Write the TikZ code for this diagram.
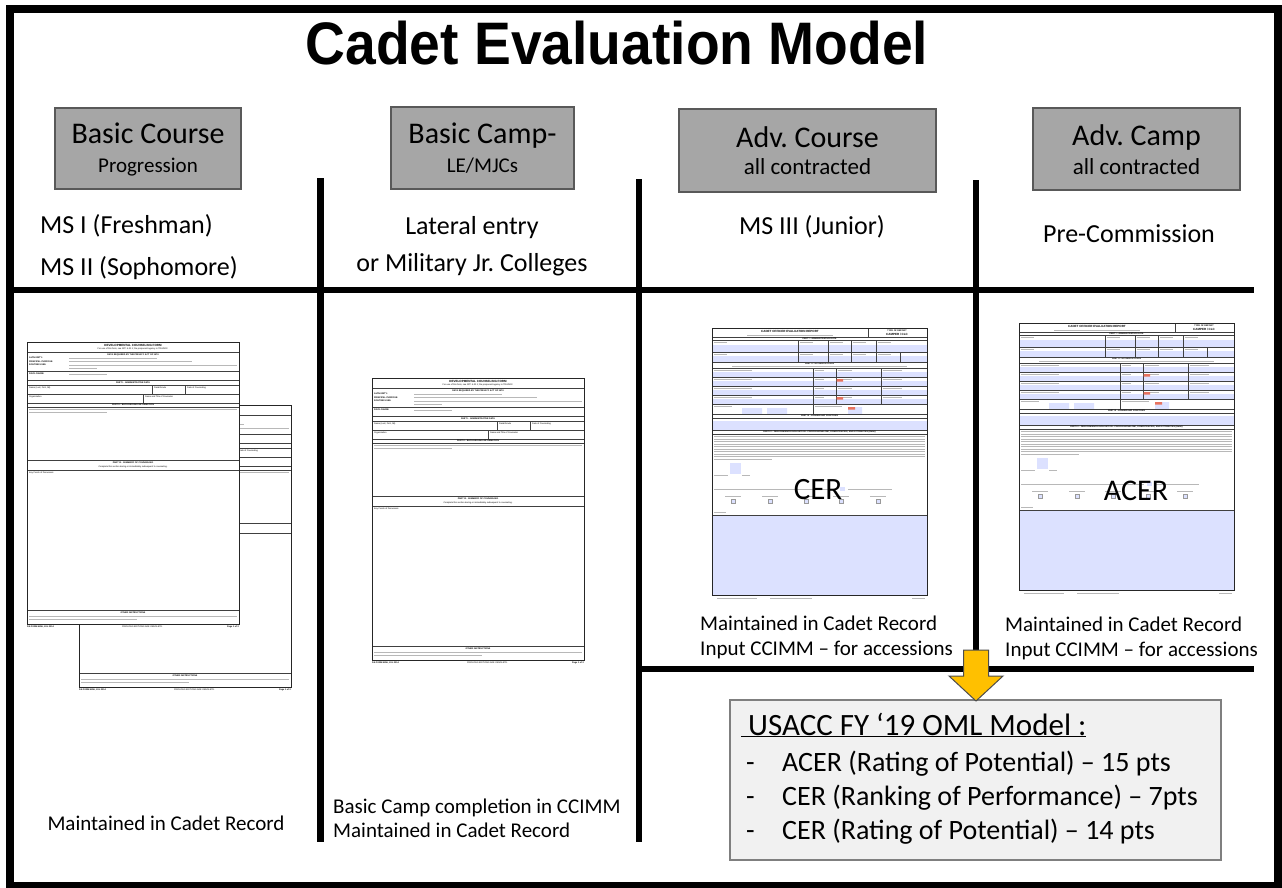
\documentclass[tikz,border=0pt]{standalone}
\usepackage{fontspec}
\setmainfont{Carlito}
\newfontfamily\titlefont{Liberation Sans}
\newfontfamily\formfont{Liberation Sans}
\definecolor{boxgray}{HTML}{A6A6A6}
\definecolor{boxedge}{HTML}{595959}
\definecolor{omlfill}{HTML}{F1F1F1}
\definecolor{omledge}{HTML}{7F7F7F}
\definecolor{fieldblue}{HTML}{DCE1FF}
\definecolor{arrowgold}{HTML}{FFC000}
\definecolor{sigred}{HTML}{E8735F}
\newcommand{\fsz}[1]{\fontsize{#1}{#1}\selectfont}
\tikzset{
  frame/.style={line width=8pt},
  divline/.style={line width=6.5pt},
  hdrbox/.style={draw=boxedge, fill=boxgray, line width=1.2pt, inner sep=0pt},
  omlbox/.style={draw=omledge, fill=omlfill, line width=1.2pt, inner sep=0pt},
  goldarrow/.style={draw=black!70, fill=arrowgold, line width=1pt, line join=miter},
  lbl/.style={inner sep=0pt, anchor=base},
  lblw/.style={inner sep=0pt, anchor=base west},
  fframe/.style={draw=black!85, line width=0.7pt},
  fthin/.style={draw=black!75, line width=0.35pt},
  fbar/.style={draw=black!28, line width=0.9pt},
  ftitle/.style={font=\formfont\bfseries\fsz{3}, inner sep=0pt},
  ftiny/.style={font=\formfont\fsz{2.2}, inner sep=0pt},
  fbold/.style={font=\formfont\bfseries\fsz{2.2}, inner sep=0pt},
  chk/.style={fill=fieldblue, draw=black!40, line width=0.3pt},
}
% developmental counseling form, local size 212 x 282
\newcommand{\dcform}{%
  \fill[white] (0,0) rectangle (212,282);
  \node[ftitle] at (106,3.5) {DEVELOPMENTAL COUNSELING FORM};
  \node[ftiny] at (106,7.3) {For use of this form, see ATP 6-22.1; the proponent agency is TRADOC.};
  \draw[fthin] (0,10) -- (212,10);
  \node[fbold] at (106,12.5) {DATA REQUIRED BY THE PRIVACY ACT OF 1974};
  \node[fbold, anchor=west] at (2,16) {AUTHORITY:};
  \node[fbold, anchor=west] at (2,19.5) {PRINCIPAL PURPOSE:};
  \node[fbold, anchor=west] at (2,23) {ROUTINE USES:};
  \node[fbold, anchor=west] at (2,32) {DISCLOSURE:};
  \draw[fbar] (42,16) -- (130,16) (42,19.5) -- (165,19.5) (42,23) -- (210,23) (42,26) -- (70,26) (42,32) -- (80,32);
  \draw[fthin] (0,29) -- (212,29);
  \draw[fthin] (0,38) -- (212,38) (0,43) -- (212,43);
  \node[fbold] at (106,40.5) {PART I - ADMINISTRATIVE DATA};
  \node[ftiny, anchor=west] at (2,45.5) {Name (Last, First, MI)};
  \node[ftiny, anchor=west] at (127,45.5) {Rank/Grade};
  \node[ftiny, anchor=west] at (160,45.5) {Date of Counseling};
  \draw[fthin] (125,43) -- (125,52) (158,43) -- (158,52) (0,52) -- (212,52);
  \node[ftiny, anchor=west] at (2,54.5) {Organization};
  \node[ftiny, anchor=west] at (118,54.5) {Name and Title of Counselor};
  \draw[fthin] (116,52) -- (116,61) (0,61) -- (212,61) (0,65) -- (212,65);
  \node[fbold] at (106,63) {PART II - BACKGROUND INFORMATION};
  \draw[fbar] (2,67.5) -- (210,67.5) (2,70) -- (80,70);
  \draw[fthin] (0,118) -- (212,118) (0,128) -- (212,128);
  \node[fbold] at (106,121) {PART III - SUMMARY OF COUNSELING};
  \node[ftiny] at (106,124.7) {Complete this section during or immediately subsequent to counseling.};
  \node[ftiny, anchor=west] at (2,130.7) {Key Points of Discussion:};
  \draw[fthin] (0,268) -- (212,268);
  \node[fbold] at (106,270.5) {OTHER INSTRUCTIONS};
  \draw[fbar] (2,274) -- (210,274) (2,277.5) -- (110,277.5);
  \draw[fframe] (0,0) rectangle (212,282);
  \node[fbold, anchor=north west] at (0,284) {DA FORM 4856, JUL 2014};
  \node[ftiny, anchor=north west] at (95,284) {PREVIOUS EDITIONS ARE OBSOLETE.};
  \node[fbold, anchor=north east] at (212,284) {Page 1 of 2};
}
% cadet officer evaluation report, local size 215 x 267
\newcommand{\cerform}{%
  \fill[white] (0,0) rectangle (215,267);
  \node[ftitle] at (78,3) {CADET OFFICER EVALUATION REPORT};
  \draw[fbar] (35,7) -- (121,7);
  \draw[fthin] (156,0) -- (156,9);
  \node[fbold] at (185,2.5) {TYPE OF REPORT};
  \node[ftitle] at (185,6) {CAMPER / CLC};
  \draw[fthin] (0,9) -- (215,9) (0,12) -- (215,12);
  \node[fbold] at (107.5,10.5) {PART I - ADMINISTRATIVE DATA};
  \fill[fieldblue] (0,17) rectangle (215,24);
  \fill[fieldblue] (0,28) rectangle (215,34);
  \draw[fthin] (0,24) -- (215,24) (0,34) -- (215,34);
  \foreach \x in {86,116,139,164} \draw[fthin] (\x,12) -- (\x,24);
  \foreach \x in {86,116,139,164,188} \draw[fthin] (\x,24) -- (\x,34);
  \foreach \x in {0,86,116,139,164} \draw[fbar, line width=0.7pt] ({\x+1.5},14.3) -- ({\x+15},14.3) ({\x+1.5},26.3) -- ({\x+15},26.3);
  \node[fbold] at (107.5,36) {PART II - AUTHENTICATION};
  \draw[fbar, line width=0.6pt] (20,38.5) -- (195,38.5);
  \draw[fthin] (0,34) -- (215,34) (0,40) -- (215,40);
  \foreach \a/\b in {40/49,49/58,58/67,67/76} {
    \fill[fieldblue] (0,{\a+4}) rectangle (215,\b);
    \draw[fbar, line width=0.7pt] (1.5,{\a+2}) -- (40,{\a+2}) (102.5,{\a+2}) -- (112,{\a+2}) (125.5,{\a+2}) -- (140,{\a+2}) (170.5,{\a+2}) -- (190,{\a+2});
    \draw[fthin] (0,\b) -- (215,\b);
  }
  \draw[fthin] (101,40) -- (101,86) (124,40) -- (124,76) (169,40) -- (169,76);
  \fill[fieldblue] (30,80) rectangle (50,86) (55,80) rectangle (75,86) (136,79) rectangle (150,86);
  \draw[fbar, line width=0.7pt] (1.5,78.5) -- (20,78.5) (102.5,78.5) -- (130,78.5);
  \fill[sigred] (124.5,51) rectangle (131,53.5) (124.5,69) rectangle (131,71.5) (136,79) rectangle (143,81.5);
  \draw[fthin] (0,86) -- (215,86) (0,90) -- (215,90);
  \node[fbold] at (107.5,88) {PART III - LEADERSHIP POSITIONS};
  \fill[fieldblue] (0,93) rectangle (215,102);
  \draw[fthin] (0,102) -- (215,102) (0,106) -- (215,106);
  \node[fbold] at (107.5,104) {PART IV - PERFORMANCE EVALUATION - PROFESSIONALISM, COMPETENCIES, AND ATTRIBUTES (Rater)};
  \foreach \y in {108.5,111,113.5,116,118.5,121,123.5,126,128.5} \draw[fbar, line width=0.8pt] (2,\y) -- (213,\y);
  \draw[fbar, line width=0.8pt] (2,131) -- (60,131);
  \fill[fieldblue] (18,135) rectangle (29,146);
  \draw[fbar, line width=0.7pt] (2,147) -- (16,147) (30,147) -- (38,147);
  \draw[fbar, line width=0.7pt] (2,161) -- (125,161) (136,161) -- (180,161);
  \fill[fieldblue] (128,158.5) rectangle (133,163);
  \foreach \x in {21,58,94,129,166} {
    \draw[fbar, line width=0.6pt] ({\x-8},168) -- ({\x+8},168);
    \filldraw[chk] ({\x-2},171) rectangle ({\x+2},175);
  }
  \draw[fbar, line width=0.7pt] (2,184) -- (14,184);
  \fill[fieldblue] (0,187) rectangle (215,267);
  \draw[fthin] (0,187) -- (215,187);
  \draw[fframe] (0,0) rectangle (215,267);
  \draw[fbar, line width=0.8pt] (5,270.5) -- (45,270.5) (58,270.5) -- (100,270.5) (200,270.5) -- (213,270.5);
}
\begin{document}
\begin{tikzpicture}[x=1pt, y=-1pt]
\useasboundingbox (0,0) rectangle (1282,888);
\fill[white] (0,0) rectangle (1282,888);
% outer frame
\draw[frame] (10,9) rectangle (1278,886);
% title
\node[lbl, font=\titlefont\bfseries\fsz{60}] (title) at (617,65) {\scalebox{0.92}[1]{Cadet Evaluation Model}};
% dividers
\draw[divline] (320.5,178) -- (320.5,842);
\draw[divline] (639,179) -- (639,842);
\draw[divline] (976,180) -- (976,669);
\draw[divline] (10,290) -- (1254,290);
\draw[divline] (639,669) -- (1254,669);
% header boxes
\node[hdrbox, minimum width=186pt, minimum height=81pt] (hdrA) at (148,148.5) {};
\node[hdrbox, minimum width=183pt, minimum height=82pt] (hdrB) at (482.5,148) {};
\node[hdrbox, minimum width=257pt, minimum height=83pt] (hdrC) at (807.5,150.5) {};
\node[hdrbox, minimum width=207pt, minimum height=82pt] (hdrD) at (1136.5,149) {};
\node[lbl, font=\fsz{30}] (hdrAa) at (148,143) {Basic Course};
\node[lbl, font=\fsz{21}] (hdrAb) at (148,172) {Progression};
\node[lbl, font=\fsz{30}] (hdrBa) at (482.5,143) {Basic Camp-};
\node[lbl, font=\fsz{21}] (hdrBb) at (482.5,172) {LE/MJCs};
\node[lbl, font=\fsz{30}] (hdrCa) at (807.5,147) {Adv.\ Course};
\node[lbl, font=\fsz{23}] (hdrCb) at (807.5,175) {all contracted};
\node[lbl, font=\fsz{30}] (hdrDa) at (1136.5,146) {Adv.\ Camp};
\node[lbl, font=\fsz{23}] (hdrDb) at (1136.5,175) {all contracted};
% column descriptions
\node[lblw, font=\fsz{26}] (msone) at (40,233) {MS I (Freshman)};
\node[lblw, font=\fsz{26}] (mstwo) at (40,275) {MS II (Sophomore)};
\node[lbl, font=\fsz{26}] (latA) at (472,234) {Lateral entry};
\node[lbl, font=\fsz{26}] (latB) at (472,271) {or Military Jr.\ Colleges};
\node[lbl, font=\fsz{26}] (msthree) at (812,234) {MS III (Junior)};
\node[lbl, font=\fsz{26}] (precom) at (1129,242) {Pre-Commission};
% forms
\begin{scope}[shift={(79,405)}] \dcform \end{scope}
\begin{scope}[shift={(27,342)}] \dcform \end{scope}
\begin{scope}[shift={(372,378)}] \dcform \end{scope}
\begin{scope}[shift={(712,328)}] \cerform \end{scope}
\begin{scope}[shift={(1019,323)}] \cerform \end{scope}
\node[font=\fsz{31}, inner sep=0pt] (cer) at (818,490) {CER};
\node[font=\fsz{30}, inner sep=0pt] (acer) at (1136,491) {ACER};
% bottom captions
\node[lbl, font=\fsz{21}] (capA) at (166,830) {Maintained in Cadet Record};
\node[lblw, font=\fsz{21}] (capBa) at (333,813) {Basic Camp completion in CCIMM};
\node[lblw, font=\fsz{21}] (capBb) at (333,837) {Maintained in Cadet Record};
\node[lblw, font=\fsz{21}] (capCa) at (700,630) {Maintained in Cadet Record};
\node[lblw, font=\fsz{21}] (capCb) at (700,655) {Input CCIMM – for accessions};
\node[lblw, font=\fsz{21}] (capDa) at (1005,631) {Maintained in Cadet Record};
\node[lblw, font=\fsz{21}] (capDb) at (1005,656) {Input CCIMM – for accessions};
% OML box
\node[omlbox, minimum width=491pt, minimum height=160pt] (oml) at (975.5,780) {};
\draw[goldarrow] (963.5,650) -- (988.5,650) -- (988.5,676) -- (1003,676) -- (976,701) -- (949,676) -- (963.5,676) -- cycle;
\node[lblw, font=\fsz{31}] (omlhead) at (741,735) {\underline{\ USACC FY ‘19 OML Model :}};
\node[lblw, font=\fsz{28}] (dashA) at (746,771) {-};
\node[lblw, font=\fsz{28}] (dashB) at (746,805) {-};
\node[lblw, font=\fsz{28}] (dashC) at (746,839) {-};
\node[lblw, font=\fsz{28}] (itemA) at (782,771) {ACER (Rating of Potential) – 15 pts};
\node[lblw, font=\fsz{28}] (itemB) at (782,805) {CER (Ranking of Performance) – 7pts};
\node[lblw, font=\fsz{28}] (itemC) at (782,839) {CER (Rating of Potential) – 14 pts};
\end{tikzpicture}
\end{document}
